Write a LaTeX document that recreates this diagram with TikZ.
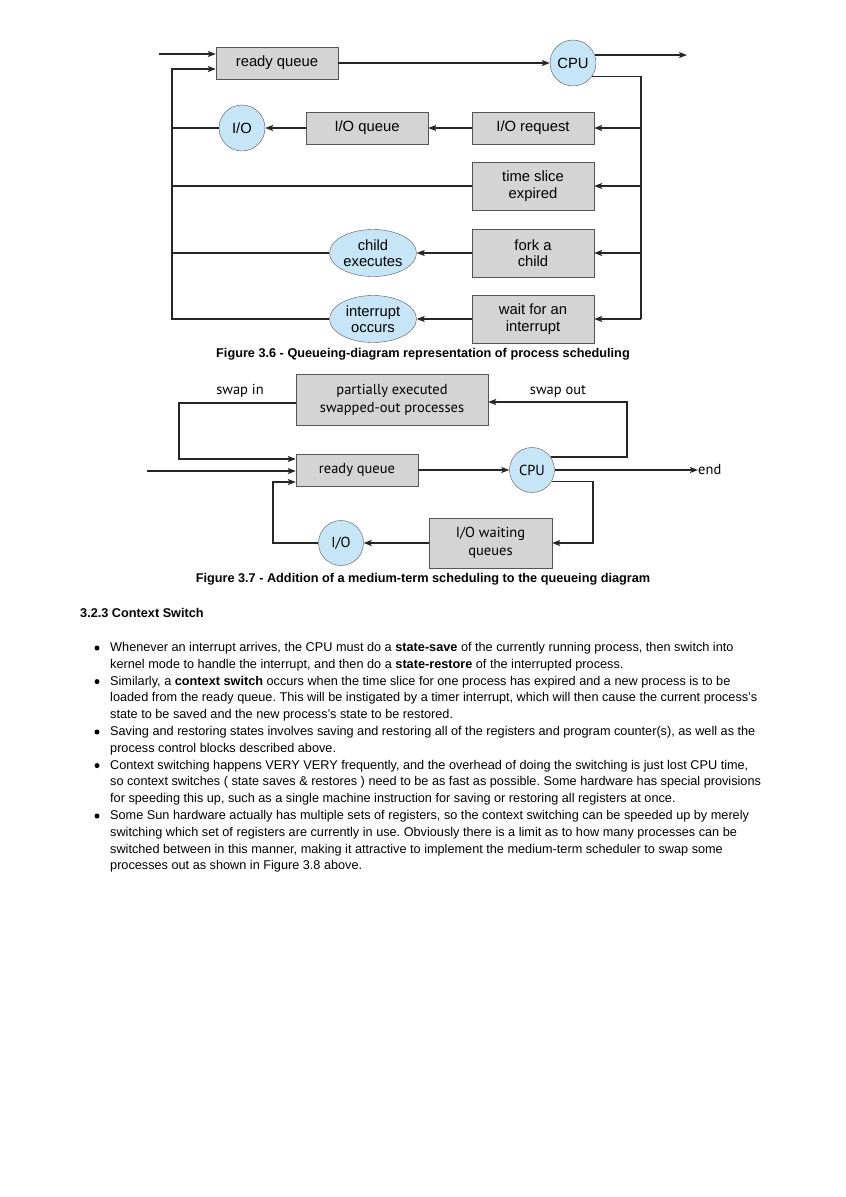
\documentclass[tikz,border=0pt]{standalone}
\usepackage{fontspec}
\setmainfont{Liberation Sans}
\newfontfamily\figfont{PT Sans}
\usepackage{tikz}
\usetikzlibrary{arrows.meta, positioning, shapes.geometric, calc}
\usepackage{xcolor}
\definecolor{boxgray}{RGB}{212,212,212}
\definecolor{cpublue}{RGB}{198,230,248}
\definecolor{edgegray}{RGB}{85,85,85}
\frenchspacing

\tikzset{
  qbox/.style={draw=edgegray, fill=boxgray, minimum width=122pt, minimum height=32pt, inner sep=0pt, align=center, font=\fontsize{14.8}{16.5}\selectfont},
  qcirc/.style={circle, draw=edgegray, fill=cpublue, minimum size=46pt, inner sep=0pt, font=\fontsize{14.8}{16.5}\selectfont},
  qell/.style={ellipse, draw=edgegray, fill=cpublue, minimum width=87pt, minimum height=47pt, inner sep=0pt, align=center, font=\fontsize{14.8}{16.5}\selectfont},
  mbox/.style={draw=edgegray, fill=boxgray, inner sep=0pt, align=center, font=\figfont\fontsize{14.5}{18}\selectfont},
  mcirc/.style={circle, draw=edgegray, fill=cpublue, minimum size=45pt, inner sep=0pt, font=\figfont\fontsize{14.5}{18}\selectfont},
  lbl/.style={inner sep=0pt, font=\figfont\fontsize{14.5}{18}\selectfont},
  arr/.style={line width=1.3pt, draw=black!85, -{Stealth[length=8pt, width=6pt, inset=1.8pt]}},
  ln/.style={line width=1.3pt, draw=black!85},
  figcap/.style={inner sep=0pt, font=\bfseries\fontsize{12.7}{15}\selectfont},
  body/.style={inner sep=0pt, anchor=north west, align=left, font=\fontsize{12.7}{16.8}\selectfont},
  dot/.style={circle, fill=black, inner sep=0pt, minimum size=5pt},
}

\begin{document}
\begin{tikzpicture}[x=1pt, y=-1pt]
\fill[white] (0,0) rectangle (846,1197);
\useasboundingbox (0,0) rectangle (846,1197);

% Figure 3.6 - queueing diagram
\node[qbox] (rq) at (277,63) {ready queue};
\node[qcirc] (cpu) at (573,63) {CPU};
\node[qcirc] (io) at (242,128) {I/O};
\node[qbox] (ioq) at (367,128) {I/O queue};
\node[qbox] (ioreq) at (533,128) {I/O request};
\node[qbox, minimum height=48pt] (ts) at (533,186) {time slice\\expired};
\node[qbox, minimum height=48pt] (fork) at (533,253) {fork a\\child};
\node[qbox, minimum height=48pt] (wait) at (533,319) {wait for an\\interrupt};
\node[qell] (child) at (373,253) {child\\executes};
\node[qell] (intr) at (373,319) {interrupt\\occurs};

\coordinate (in) at (159,54);
\coordinate (out) at (687,55);
\coordinate (rail) at (641,76);
\coordinate (loop) at (172,69);

\draw[arr] (in) -- (in -| rq.west);
\draw[arr] (rq.east) -- (cpu.west);
\draw[arr] (cpu.20) -- (cpu.20 -| out);
\draw[ln] (cpu.-35) -| (rail |- wait.east);
\foreach \n in {ioreq, ts, fork, wait}
  \draw[arr] (rail |- \n.east) -- (\n.east);
\draw[arr] (ioreq.west) -- (ioq.east);
\draw[arr] (ioq.west) -- (io.east);
\draw[arr] (fork.west) -- (child.east);
\draw[arr] (wait.west) -- (intr.east);
\draw[ln] (io.west) -- (io.west -| loop);
\draw[ln] (ts.west) -- (ts.west -| loop);
\draw[ln] (child.west) -- (child.west -| loop);
\draw[arr] (intr.west) -| (loop) -- (loop -| rq.west);

\node[figcap] (cap1) at (423,354) {Figure 3.6 - Queueing-diagram representation of process scheduling};

% Figure 3.7 - medium-term scheduling
\node[mbox, minimum width=192pt, minimum height=51pt] (part) at (392,399.5) {partially executed\\swapped-out processes};
\node[mbox, minimum width=122pt, minimum height=32pt] (rq2) at (357,470) {ready queue};
\node[mcirc] (cpu2) at (532,470) {CPU};
\node[mbox, minimum width=123pt, minimum height=50pt] (iow) at (490.5,543) {I/O waiting\\queues};
\node[mcirc] (io2) at (341,543) {I/O};
\node[lbl] (swin) at (240,391) {swap in};
\node[lbl] (swout) at (558,391) {swap out};
\node[lbl, anchor=west] (endlbl) at (698,470) {end};

\coordinate (si) at (179,403);
\coordinate (so) at (627,402);
\coordinate (in2) at (147,471);
\coordinate (rr) at (593,543);
\coordinate (ll) at (273,482);

\draw[arr, line width=1.7pt] (si -| part.west) -- (si) |- ($(rq2.west)+(0,-11)$);
\draw[arr] (cpu2.35) -| (so) -- (so -| part.east);
\draw[arr] (in2) -- (in2 -| rq2.west);
\draw[arr] (rq2.east) -- (cpu2.west);
\draw[arr] (cpu2.east) -- (endlbl.west);
\draw[arr] (cpu2.-30) -| (rr) -- (iow.east);
\draw[arr] (iow.west) -- (io2.east);
\draw[arr] (io2.west) -| (ll) -- (ll -| rq2.west);

\node[figcap] (cap2) at (423,579) {Figure 3.7 - Addition of a medium-term scheduling to the queueing diagram};

% 3.2.3 Context Switch
\node[figcap, anchor=base west] (head) at (80,617) {3.2.3 Context Switch};

\node[body] (t1) at (110,642) {Whenever an interrupt arrives, the CPU must do a \textbf{state-save} of the currently running process, then switch into\\kernel mode to handle the interrupt, and then do a \textbf{state-restore} of the interrupted process.};
\node[body] (t2) at (110,675.6) {Similarly, a \textbf{context switch} occurs when the time slice for one process has expired and a new process is to be\\loaded from the ready queue. This will be instigated by a timer interrupt, which will then cause the current process's\\state to be saved and the new process's state to be restored.};
\node[body] (t3) at (110,726) {Saving and restoring states involves saving and restoring all of the registers and program counter(s), as well as the\\process control blocks described above.};
\node[body] (t4) at (110,759.6) {Context switching happens VERY VERY frequently, and the overhead of doing the switching is just lost CPU time,\\so context switches ( state saves \& restores ) need to be as fast as possible. Some hardware has special provisions\\for speeding this up, such as a single machine instruction for saving or restoring all registers at once.};
\node[body] (t5) at (110,810) {Some Sun hardware actually has multiple sets of registers, so the context switching can be speeded up by merely\\switching which set of registers are currently in use. Obviously there is a limit as to how many processes can be\\switched between in this manner, making it attractive to implement the medium-term scheduler to swap some\\processes out as shown in Figure 3.8 above.};

\foreach \t in {t1, t2, t3, t4, t5}
  \node[dot] (d\t) at ($(\t.north west)+(-13,6)$) {};
\end{tikzpicture}
\end{document}
